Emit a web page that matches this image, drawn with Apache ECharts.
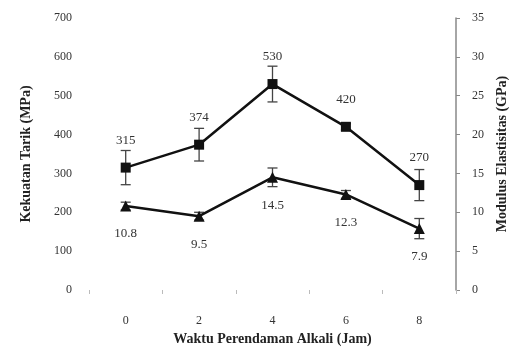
<!DOCTYPE html>
<html>
<head>
<meta charset="utf-8">
<script src="https://cdn.jsdelivr.net/npm/echarts@6/dist/echarts.min.js"></script>
<style>html,body{margin:0;padding:0;background:#fff}#c{width:519px;height:353px}</style>
</head>
<body>
<div id="c"></div>
<script>
// Soaking time in alkali (hours)
const categories = ['0', '2', '4', '6', '8'];
// Tensile strength (MPa) and its spread
const tensile = [315, 374, 530, 420, 270];
const tensileErr = [44, 42, 46, 8, 40];
// Elastic modulus (GPa) and its spread
const modulus = [10.8, 9.5, 14.5, 12.3, 7.9];
const modulusErr = [0.5, 0.5, 1.2, 0.5, 1.3];

const font = '"Liberation Serif", "DejaVu Serif", serif';

function errorSeries(values, errs, yIndex) {
  return {
    type: 'custom',
    yAxisIndex: yIndex,
    z: 1,
    data: values.map((v, i) => [i, v - errs[i], v + errs[i]]),
    renderItem: function (params, api) {
      const lo = api.coord([api.value(0), api.value(1)]);
      const hi = api.coord([api.value(0), api.value(2)]);
      const w = 5;
      const st = { stroke: '#444', lineWidth: 1.3 };
      return {
        type: 'group',
        children: [
          { type: 'line', shape: { x1: lo[0], y1: lo[1], x2: hi[0], y2: hi[1] }, style: st },
          { type: 'line', shape: { x1: lo[0] - w, y1: lo[1], x2: lo[0] + w, y2: lo[1] }, style: st },
          { type: 'line', shape: { x1: hi[0] - w, y1: hi[1], x2: hi[0] + w, y2: hi[1] }, style: st }
        ]
      };
    }
  };
}

const chart = echarts.init(document.getElementById('c'));
chart.setOption({
  animation: false,
  backgroundColor: '#fff',
  grid: { left: 89, right: 63, top: 18, bottom: 63 },
  xAxis: {
    type: 'category',
    data: categories,
    boundaryGap: true,
    name: 'Waktu Perendaman Alkali (Jam)',
    nameLocation: 'middle',
    nameGap: 41,
    nameTextStyle: { fontFamily: font, fontSize: 14, fontWeight: 'bold', color: '#222' },
    axisLine: { show: false },
    axisTick: { show: true, length: 4, lineStyle: { color: '#bbb' } },
    axisLabel: { fontFamily: font, fontSize: 12, color: '#333', margin: 25 }
  },
  yAxis: [
    {
      type: 'value', min: 0, max: 700, interval: 100,
      name: 'Kekuatan Tarik (MPa)',
      nameLocation: 'middle',
      nameGap: 56,
      nameTextStyle: { fontFamily: font, fontSize: 14, fontWeight: 'bold', color: '#222' },
      axisLine: { show: false },
      axisTick: { show: false },
      splitLine: { show: false },
      axisLabel: { fontFamily: font, fontSize: 12, color: '#333', margin: 17 }
    },
    {
      type: 'value', min: 0, max: 35, interval: 5,
      name: 'Modulus Elastisitas (GPa)',
      nameLocation: 'middle',
      nameGap: 37,
      nameRotate: 90,
      nameTextStyle: { fontFamily: font, fontSize: 14, fontWeight: 'bold', color: '#222' },
      axisLine: { show: true, lineStyle: { color: '#888', width: 1.5 } },
      axisTick: { show: true, inside: false, length: 4, lineStyle: { color: '#888' } },
      splitLine: { show: false },
      axisLabel: { fontFamily: font, fontSize: 12, color: '#333', margin: 16 }
    }
  ],
  series: [
    errorSeries(tensile, tensileErr, 0),
    errorSeries(modulus, modulusErr, 1),
    {
      type: 'line', yAxisIndex: 0, data: tensile, z: 3,
      symbol: 'rect', symbolSize: 10,
      lineStyle: { color: '#111', width: 2.5 },
      itemStyle: { color: '#111' },
      label: { show: true, position: 'top', distance: 16, fontFamily: font, fontSize: 13, color: '#333' }
    },
    {
      type: 'line', yAxisIndex: 1, data: modulus, z: 3,
      symbol: 'triangle', symbolSize: 11,
      lineStyle: { color: '#111', width: 2.5 },
      itemStyle: { color: '#111' },
      label: { show: true, position: 'bottom', distance: 16, fontFamily: font, fontSize: 13, color: '#333' }
    }
  ]
});
</script>
</body>
</html>
